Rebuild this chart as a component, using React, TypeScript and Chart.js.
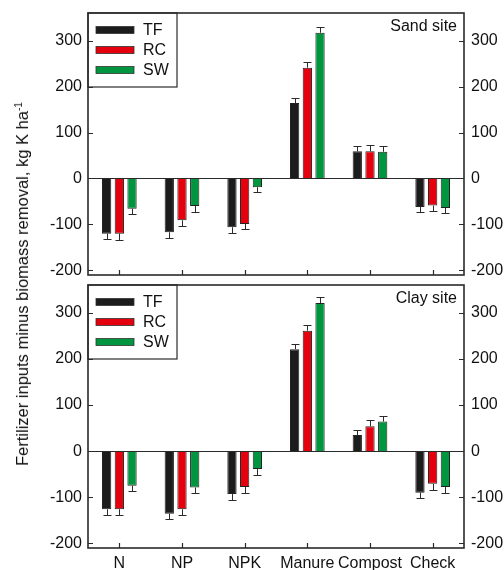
import React, { useEffect, useRef } from 'react';
import { Chart, registerables } from 'chart.js';

Chart.register(...registerables);

const categories = ['N', 'NP', 'NPK', 'Manure', 'Compost', 'Check'];
const seriesNames = ['TF', 'RC', 'SW'];
const seriesColors = ['#1c1c1c', '#e5000d', '#009640'];

// Sand site
const sandTF = [-120, -117, -106, 164, 59, -62];
const sandRC = [-120, -91, -99, 241, 59, -59];
const sandSW = [-66, -60, -19, 317, 58, -64];
const sandTFErr = [11, 13, 12, 12, 11, 11];
const sandRCErr = [13, 13, 12, 12, 13, 11];
const sandSWErr = [11, 12, 11, 12, 12, 11];

// Clay site
const clayTF = [-126, -136, -93, 221, 35, -90];
const clayRC = [-126, -126, -78, 261, 54, -71];
const claySW = [-75, -79, -39, 321, 64, -78];
const clayTFErr = [12, 12, 12, 12, 11, 11];
const clayRCErr = [12, 12, 12, 13, 13, 13];
const claySWErr = [12, 12, 12, 12, 12, 12];

const yMin = -210;
const yMax = 360;
const yStep = 100;

const FONT = '"Liberation Sans", Arial, sans-serif';
const TEXT = '#111';
const LINE = '#2a2a2a';

const decorPlugin = {
  id: 'decor',
  afterDatasetsDraw(chart: any, _args: any, opts: any) {
    const ctx = chart.ctx;
    const { left, right, top, bottom } = chart.chartArea;
    const ys = chart.scales.y;
    const xs = chart.scales.x;
    ctx.save();
    // error bars
    ctx.strokeStyle = LINE;
    ctx.lineWidth = 1;
    chart.data.datasets.forEach((ds: any, di: number) => {
      const meta = chart.getDatasetMeta(di);
      meta.data.forEach((bar: any, i: number) => {
        const v = ds.data[i];
        const e = ds.errors[i];
        const end = v >= 0 ? v + e : v - e;
        const p0 = ys.getPixelForValue(v);
        const p1 = Math.round(ys.getPixelForValue(end)) + 0.5;
        const bx = Math.round(bar.x) + 0.5;
        ctx.beginPath();
        ctx.moveTo(bx, p0);
        ctx.lineTo(bx, p1);
        ctx.moveTo(bx - 4, p1);
        ctx.lineTo(bx + 4, p1);
        ctx.stroke();
      });
    });
    // zero line
    const zy = Math.round(ys.getPixelForValue(0)) + 0.5;
    ctx.beginPath();
    ctx.lineWidth = 1.2;
    ctx.moveTo(left, zy);
    ctx.lineTo(right, zy);
    ctx.stroke();
    // inward ticks
    ctx.lineWidth = 1.2;
    ctx.beginPath();
    ys.ticks.forEach((t: any) => {
      const py = Math.round(ys.getPixelForValue(t.value)) + 0.5;
      ctx.moveTo(left, py);
      ctx.lineTo(left + 5, py);
      ctx.moveTo(right, py);
      ctx.lineTo(right - 5, py);
    });
    categories.forEach((_c, i) => {
      const px = Math.round(xs.getPixelForValue(i)) + 0.5;
      ctx.moveTo(px, bottom);
      ctx.lineTo(px, bottom - 5);
    });
    ctx.stroke();
    // frame
    ctx.lineWidth = 1.6;
    ctx.strokeStyle = LINE;
    ctx.strokeRect(left, top, right - left, bottom - top);
    // legend
    const lx = left;
    const ly = top;
    ctx.lineWidth = 1.2;
    ctx.strokeRect(lx, ly, 89, 74);
    chart.data.datasets.forEach((ds: any, di: number) => {
      const cy = ly + 17 + di * 20;
      ctx.fillStyle = ds.backgroundColor;
      ctx.fillRect(lx + 8, cy - 3.5, 38, 7);
      ctx.lineWidth = 0.8;
      ctx.strokeStyle = '#333';
      ctx.strokeRect(lx + 8, cy - 3.5, 38, 7);
      ctx.fillStyle = TEXT;
      ctx.font = `16px ${FONT}`;
      ctx.textAlign = 'left';
      ctx.textBaseline = 'middle';
      ctx.fillText(ds.label, lx + 55, cy + 1);
    });
    // site label
    ctx.fillStyle = TEXT;
    ctx.font = `16px ${FONT}`;
    ctx.textAlign = 'right';
    ctx.textBaseline = 'middle';
    ctx.fillText(opts.site, right - 7, top + 14);
    ctx.restore();
  },
};

function noPad(s: any) {
  s.paddingTop = 0;
  s.paddingBottom = 0;
}

function makeConfig(
  series: number[][],
  errors: number[][],
  site: string,
  padTop: number,
  xHeight: number,
  showX: boolean
): any {
  const font = { family: FONT, size: 16 };
  return {
    type: 'bar',
    data: {
      labels: categories,
      datasets: seriesNames.map((name, k) => ({
        label: name,
        data: series[k],
        errors: errors[k],
        backgroundColor: seriesColors[k],
        borderColor: '#222',
        borderWidth: 1,
        categoryPercentage: 0.608,
        barPercentage: 0.73,
        yAxisID: 'y',
      })),
    },
    options: {
      responsive: false,
      animation: false,
      events: [],
      layout: { padding: { top: padTop, left: 0, right: 0, bottom: 0 } },
      plugins: {
        legend: { display: false },
        tooltip: { enabled: false },
        decor: { site },
      },
      scales: {
        x: {
          grid: { display: false, drawTicks: false },
          border: { display: false },
          ticks: { display: showX, padding: 6, color: TEXT, font, maxRotation: 0, autoSkip: false },
          afterFit: (s: any) => {
            s.height = xHeight;
            s.paddingLeft = 0;
            s.paddingRight = 0;
          },
        },
        y: {
          position: 'left',
          min: yMin,
          max: yMax,
          grid: { display: false, drawTicks: false },
          border: { display: false },
          ticks: { stepSize: yStep, includeBounds: false, padding: 6, color: TEXT, font },
          afterFit: (s: any) => {
            s.width = 88;
            noPad(s);
          },
        },
        y2: {
          position: 'right',
          min: yMin,
          max: yMax,
          grid: { display: false, drawTicks: false },
          border: { display: false },
          ticks: { stepSize: yStep, includeBounds: false, padding: 7, color: TEXT, font },
          afterFit: (s: any) => {
            s.width = 40;
            noPad(s);
          },
        },
      },
    },
    plugins: [decorPlugin],
  };
}

export default function App() {
  const topRef = useRef<HTMLCanvasElement>(null);
  const botRef = useRef<HTMLCanvasElement>(null);

  useEffect(() => {
    const c1 = new Chart(
      topRef.current as HTMLCanvasElement,
      makeConfig(
        [sandTF, sandRC, sandSW],
        [sandTFErr, sandRCErr, sandSWErr],
        'Sand site',
        13,
        5,
        false
      )
    );
    const c2 = new Chart(
      botRef.current as HTMLCanvasElement,
      makeConfig(
        [clayTF, clayRC, claySW],
        [clayTFErr, clayRCErr, claySWErr],
        'Clay site',
        5,
        22,
        true
      )
    );
    return () => {
      c1.destroy();
      c2.destroy();
    };
  }, []);

  return (
    <div
      style={{
        position: 'fixed',
        left: 0,
        top: 0,
        width: 504,
        height: 570,
        overflow: 'hidden',
        background: '#fff',
      }}
    >
      <canvas
        ref={topRef}
        width={504}
        height={280}
        style={{ position: 'absolute', left: 0, top: 0, width: 504, height: 280 }}
      />
      <canvas
        ref={botRef}
        width={504}
        height={290}
        style={{ position: 'absolute', left: 0, top: 280, width: 504, height: 290 }}
      />
      <div
        style={{
          position: 'absolute',
          left: 22,
          top: 284,
          transform: 'translate(-50%, -50%) rotate(-90deg)',
          whiteSpace: 'nowrap',
          fontFamily: FONT,
          fontSize: 16.5,
          color: TEXT,
          lineHeight: '18px',
        }}
      >
        Fertilizer inputs minus biomass removal, kg K ha<sup style={{ fontSize: 10, verticalAlign: 'super', lineHeight: 0 }}>-1</sup>
      </div>
    </div>
  );
}
